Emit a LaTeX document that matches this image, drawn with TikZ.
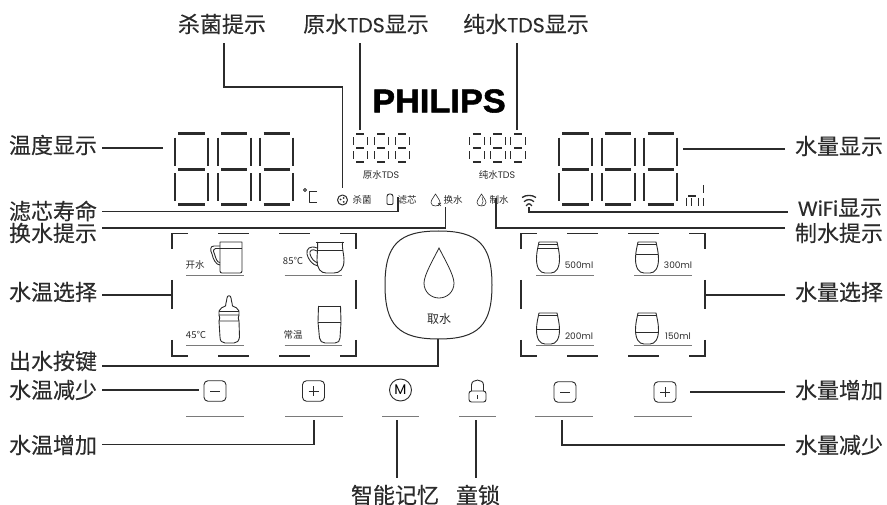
\documentclass[tikz,border=0pt]{standalone}
\usepackage{fontspec}
\setmainfont{Noto Sans CJK SC}
\newfontfamily\lat{Poppins}
\newfontfamily\heavy[FakeBold=0.3]{Noto Sans CJK SC}
\newfontfamily\heavylat[FakeBold=0.3, Scale=0.93]{Poppins}
\newfontfamily\logofont[FakeBold=1.6, FakeStretch=1.04]{Liberation Sans Bold}
\usetikzlibrary{positioning}
\definecolor{ink}{HTML}{2B2B2B}
\definecolor{rule}{HTML}{7A7A7A}

% one seven-segment digit: left, top, width, height, bar width, inset
\newcommand{\segdigit}[6]{%
  \foreach \yfrac in {0,.5,1}
    \draw[ink, line width=#5pt] (#1+#6*#3,#2+\yfrac*#4) -- (#1+#3-#6*#3,#2+\yfrac*#4);
  \foreach \xpos in {0,1} {
    \draw[ink, line width=.72*#5pt] (#1+\xpos*#3,#2+.5*#6*#4) -- (#1+\xpos*#3,#2+.5*#4-.5*#6*#4);
    \draw[ink, line width=.72*#5pt] (#1+\xpos*#3,#2+.5*#4+.5*#6*#4) -- (#1+\xpos*#3,#2+#4-.5*#6*#4);
  }
}
% broken frame round a group of four
\newcommand{\brokenframe}[2]{%
  \draw[frame] (#1,249) |- (#1+16,233.5);
  \draw[frame] (#2,249) |- (#2-16,233.5);
  \draw[frame] (#1,340) |- (#1+16,356);
  \draw[frame] (#2,340) |- (#2-16,356);
  \foreach \yy in {233.5,356} {
    \draw[frame] (#1+46,\yy) -- (#1+77,\yy);
    \draw[frame] (#1+107,\yy) -- (#1+138,\yy);
  }
  \draw[frame] (#1,280) -- (#1,309);
  \draw[frame] (#2,280) -- (#2,309);
}

\tikzset{
  pics/glass/.style n args={2}{code={
    \draw[icon] (-9,0) .. controls (-10,5) and (-11.5,10) .. (-11.5,17)
      .. controls (-11.5,26) and (-8,31) .. (-3,31) -- (3,31)
      .. controls (8,31) and (11.5,26) .. (11.5,17)
      .. controls (11.5,10) and (10,5) .. (9,0) -- cycle;
    \draw[icon] (-9,2) -- (9,2);
    \draw[icon] (-#2,#1) -- (#2,#1);
  }},
  pics/dropicon/.style={code={
    \draw[icon, line width=.6pt] (0,-6) .. controls (-1.5,-3) and (-4.5,0) .. (-4.5,2.5)
      .. controls (-4.5,5) and (-2.5,6) .. (0,6)
      .. controls (2.5,6) and (4.5,5) .. (4.5,2.5)
      .. controls (4.5,0) and (1.5,-3) .. cycle;
  }},
}

\begin{document}
\begin{tikzpicture}[x=1pt, y=-1pt,
  lab/.style={font=\heavy\fontsize{22}{22}\selectfont, inner sep=0pt, outer xsep=5pt, text=ink},
  tag/.style={font=\fontsize{9.5}{9.5}\selectfont, inner sep=0pt, text=ink},
  vtag/.style={font=\lat\fontsize{9}{9}\selectfont, inner sep=0pt, text=ink},
  lead/.style={draw=ink, line width=1.2pt},
  frame/.style={draw=ink, line width=1.2pt},
  under/.style={draw=rule, line width=.8pt},
  icon/.style={draw=ink, line width=.9pt, line join=round},
]
\useasboundingbox (0,0) rectangle (887,505);
%labels on top
\node[lab] (l-kill) at (222,24) {杀菌提示};
\node[lab] (l-raw)  at (366,24) {原水{\heavylat TDS}显示};
\node[lab] (l-pure) at (526,24) {纯水{\heavylat TDS}显示};
%labels left
\node[lab] (l-temp)  at (53,145) {温度显示};
\node[lab] (l-life)  at (53,211) {滤芯寿命};
\node[lab] (l-chg)   at (53,233) {换水提示};
\node[lab] (l-tsel)  at (53,292) {水温选择};
\node[lab] (l-out)   at (53,361) {出水按键};
\node[lab] (l-tdown) at (53,390) {水温减少};
\node[lab] (l-tup)   at (53,445) {水温增加};
%labels right
\node[lab] (l-vol)   at (839,146) {水量显示};
\node[lab] (l-wifi)  at (840,208) {{\heavylat WiFi}显示};
\node[lab] (l-make)  at (839,233) {制水提示};
\node[lab] (l-vsel)  at (839,292) {水量选择};
\node[lab] (l-vup)   at (839,390) {水量增加};
\node[lab] (l-vdown) at (839,445) {水量减少};
%labels bottom
\node[lab] (l-mem)  at (395,495) {智能记忆};
\node[lab] (l-lock) at (478,495) {童锁};

\node[font=\logofont\fontsize{33}{33}\selectfont, inner sep=0pt, text=black] (logo) at (439,101) {PHILIPS};

%displays
\foreach \xx in {175,217.7,260.3} {\segdigit{\xx}{134}{33}{71}{3}{.1}}
\foreach \xx in {559,601.7,644.3} {\segdigit{\xx}{134}{33}{71}{3}{.1}}
\foreach \xx in {353,374,395} {\segdigit{\xx}{134}{14}{28}{1.1}{.22}}
\foreach \xx in {469.5,490,510.5} {\segdigit{\xx}{134}{15}{28}{1.1}{.22}}
\node[tag] (t-raw)  at (381,175) {原水{\lat TDS}};
\node[tag] (t-pure) at (497,175) {纯水{\lat TDS}};

%status row
\draw[icon] (305,190) circle (1.6);
\draw[icon, line width=1pt] (317,192) -- (309,192) -- (309,203) -- (317,203);
\node[icon, line width=1pt, circle, minimum size=10pt, inner sep=0pt] (i-kill) at (342.5,200) {};
\foreach \dx/\dy in {-2/-.5,1.2/-2,1.2/1.8} \fill[ink] (342.5+\dx,200+\dy) circle (1);
\node[tag] (t-kill) at (362,200) {杀菌};
\draw[icon, rounded corners=1pt] (387,204.5) -- (387,195.5) -- (388.5,194) -- (391.5,194) -- (393,195.5) -- (393,204.5) -- cycle;
\node[tag] (t-filt) at (407,200) {滤芯};
\pic at (435.5,200) {dropicon};
\draw[icon, line width=.6pt] (438,203) -- (441,206) (441,203) -- (438,206);
\node[tag] (t-chg) at (453,200) {换水};
\pic at (481.5,200) {dropicon};
\draw[icon, line width=.5pt] (482,197) .. controls (483.5,200) and (483.5,203) .. (481.5,205.5);
\node[tag] (t-make) at (499,200) {制水};
%wifi
\foreach \ytop/\hw in {195/7,199.2/5,203.4/2.8}
  \draw[icon, line width=1.3pt] (529-\hw,\ytop+2.5) .. controls (529-.4*\hw,\ytop-.3) and (529+.4*\hw,\ytop-.3) .. (529+\hw,\ytop+2.5);
\coordinate (i-wifi) at (529,207);
%signal bars
\foreach \xx in {686,691,698,703} \draw[ink, line width=1pt] (\xx,198) -- (\xx,206);
\draw[ink, line width=1.2pt] (688,196) -- (696,196);
\draw[ink, line width=1pt] (703,185) -- (703,193);

%main key
\node[inner sep=0pt, minimum size=0pt] (key) at (438.5,285) {};
\draw[ink, line width=1pt] (438.5,231) .. controls (478.5,231) and (492,245) .. (492,285)
  .. controls (492,325) and (478.5,339) .. (438.5,339)
  .. controls (398.5,339) and (385,325) .. (385,285)
  .. controls (385,245) and (398.5,231) .. cycle;
\draw[ink, line width=.8pt] (439,248) .. controls (434,258) and (424,275) .. (424,283)
  .. controls (424,292) and (431,298) .. (439,298)
  .. controls (447,298) and (454,292) .. (454,283)
  .. controls (454,275) and (444,258) .. cycle;
\node[tag, font=\fontsize{12}{12}\selectfont] (t-get) at (439,319) {取水};
\coordinate (key-s) at (438,339);

%temperature group
\brokenframe{172}{356}
\foreach \xa / \ya in {186/275,284.5/275,186/345,284.5/345} \draw[under] (\xa,\ya) -- (\xa+57.5,\ya);
\node[tag] (t-boil) at (195,265) {开水};
\node[tag] (t-85)   at (293,261) {85℃};
\node[tag] (t-45)   at (196,335) {45℃};
\node[tag] (t-room) at (293,335) {常温};
%mug
\draw[icon] (220,242) -- (242,242) -- (242,271) .. controls (242,272.5) and (241,273) .. (240,273) -- (222,273) .. controls (221,273) and (220,272.5) .. (220,271) -- cycle;
\draw[icon] (220,248) -- (242,248);
\draw[icon] (220,246) -- (214,246) .. controls (210,246) and (210,250) .. (212,254) .. controls (213,259) and (216,265) .. (220,265);
\draw[icon] (220,248.5) -- (215.5,248.5) .. controls (213,248.5) and (213,251) .. (214.5,254) .. controls (216,259) and (217,262.5) .. (220,262.5);
%cup with handle
\draw[icon] (316,242) -- (344,242);
\draw[icon] (317.5,242) .. controls (318,250) and (317,254) .. (317,260) .. controls (317,269) and (321,273) .. (326,273) -- (334,273) .. controls (340,273) and (344,269) .. (344,260) .. controls (344,254) and (342,250) .. (342.5,242);
\draw[icon] (318,250) -- (343,250);
\draw[icon] (317,248) .. controls (310,245) and (306,249) .. (307,254) .. controls (308,259) and (312,265) .. (318,266);
\draw[icon] (317,251) .. controls (312,248) and (309,251) .. (310,254) .. controls (311,258) and (314,262) .. (318,263);
%bottle
\draw[icon] (225.5,306) .. controls (226,302) and (227,300) .. (227,298) .. controls (227,295) and (231,295) .. (231,298) .. controls (231,300) and (232,302) .. (232.5,306) .. controls (235,307) and (238,308) .. (239,311) -- (239,315) -- (219,315) -- (219,311) .. controls (220,308) and (223,307) .. (225.5,306) -- cycle;
\draw[icon] (219,311) -- (239,311);
\draw[icon] (219,315) .. controls (220,317) and (220,319) .. (219,321) -- (239,321) .. controls (238,319) and (238,317) .. (239,315);
\draw[icon] (219,321) -- (220,337) .. controls (220,341) and (222,343) .. (225,343) -- (234,343) .. controls (237,343) and (239,341) .. (239.5,337) -- (239,321);
%tumbler
\draw[icon] (318.5,306) -- (340.5,306);
\draw[icon] (318.5,306) -- (318,322) -- (319.5,338) .. controls (320,341) and (322,343) .. (325,343) -- (335,343) .. controls (338,343) and (340,341) .. (340,338) -- (341,322) -- (340.5,306);
\draw[icon] (318,322) -- (341,322);

%volume group
\brokenframe{521}{705}
\foreach \xa / \ya in {536/275,634/275,536/345,634/345} \draw[under] (\xa,\ya) -- (\xa+57.5,\ya);
\node[vtag] (t-500) at (579,265) {500ml};
\node[vtag] (t-300) at (678,265) {300ml};
\node[vtag] (t-200) at (579,336) {200ml};
\node[vtag] (t-150) at (678,336) {150ml};
\pic at (548,242) {glass={6}{10}};
\pic at (647,242) {glass={12}{11}};
\pic at (548,313) {glass={16}{11.5}};
\pic at (647,313) {glass={19}{11.5}};

%keys
\foreach \nm / \cx / \cy in {minus-a/215/391, plus-a/313.5/391, minus-b/565/392, plus-b/665/392}
  \node[icon, rounded corners=4pt, minimum width=22pt, minimum height=20.5pt, inner sep=0pt] (\nm) at (\cx,\cy) {};
\draw[icon] (210,391) -- (220,391);
\draw[icon] (308.5,391) -- (318.5,391) (313.5,386) -- (313.5,396);
\draw[icon] (560,392) -- (570,392);
\draw[icon] (660,392) -- (670,392) (665,387) -- (665,397);
\node[icon, circle, minimum size=22pt, inner sep=0pt, font=\lat\fontsize{14}{14}\selectfont] (k-mem) at (400.5,390) {M};
\node[icon, rounded corners=2.5pt, minimum width=17pt, minimum height=11pt, inner sep=0pt] (k-lock) at (477.5,396.5) {};
\draw[icon] (471.5,391) -- (471.5,385) .. controls (471.5,378.5) and (483.5,378.5) .. (483.5,385) -- (483.5,391);
\draw[icon] (477.5,395) -- (477.5,399);
\foreach \xa / \wd in {186/57.5,285/57.5,382/37,459/37,535/57.5,634/57.5} \draw[under] (\xa,416) -- (\xa+\wd,416);

%end points of the leaders
\coordinate (a-temp)  at (163,148);
\coordinate (a-life)  at (398,211.5);
\coordinate (a-lifeT) at (398,197);
\coordinate (a-chg)   at (445.5,228);
\coordinate (a-chgT)  at (445.5,207);
\coordinate (a-tsel)  at (172,295);
\coordinate (a-out)   at (438,366);
\coordinate (a-tdown) at (199,390);
\coordinate (a-tup)   at (314,444.5);
\coordinate (a-tupT)  at (314,420);
\coordinate (a-vol)   at (683,149);
\coordinate (a-wifi)  at (529,212);
\coordinate (a-make)  at (496,228);
\coordinate (a-makeT) at (496,198);
\coordinate (a-vsel)  at (705,295);
\coordinate (a-vup)   at (690,392);
\coordinate (a-vdown) at (562,445);
\coordinate (a-vdownT) at (562,420);
\coordinate (a-kill1) at (224,87);
\coordinate (a-kill2) at (342.5,87);
\coordinate (a-kill3) at (342.5,188);
\coordinate (a-raw)   at (360,130);
\coordinate (a-pure)  at (517,130);
\coordinate (a-mem)   at (397,420);
\coordinate (a-lock)  at (476,420);

%leaders
\foreach \fr / \bend in {l-temp/a-temp, l-tsel/a-tsel, l-tdown/a-tdown}
\draw[lead] (\fr.east |- \bend) -- (\bend);
\foreach \fr / \bend / \tonode in {l-life/a-life/a-lifeT, l-chg/a-chg/a-chgT,
  l-out/a-out/key-s, l-tup/a-tup/a-tupT}
\draw[lead] (\fr.east |- \bend) -- (\bend) -- (\tonode);
\foreach \fr / \bend in {l-vol/a-vol, l-vsel/a-vsel, l-vup/a-vup}
\draw[lead] ([xshift=-5pt]\fr.west |- \bend) -- (\bend);
\foreach \fr / \bend / \tonode in {l-wifi/a-wifi/i-wifi, l-make/a-make/a-makeT, l-vdown/a-vdown/a-vdownT}
\draw[lead] ([xshift=-5pt]\fr.west |- \bend) -- (\bend) -- (\tonode);
\draw[lead] ([yshift=-9pt]l-kill.south -| a-kill1) -- (a-kill1) -- (a-kill2) -- (a-kill3);
\foreach \fr / \tonode in {l-raw/a-raw, l-pure/a-pure}
\draw[lead] ([yshift=-9pt]\fr.south -| \tonode) -- (\tonode);
\foreach \fr / \tonode in {l-mem/a-mem, l-lock/a-lock}
\draw[lead] ([yshift=7pt]\fr.north -| \tonode) -- (\tonode);
\end{tikzpicture}
\end{document}
